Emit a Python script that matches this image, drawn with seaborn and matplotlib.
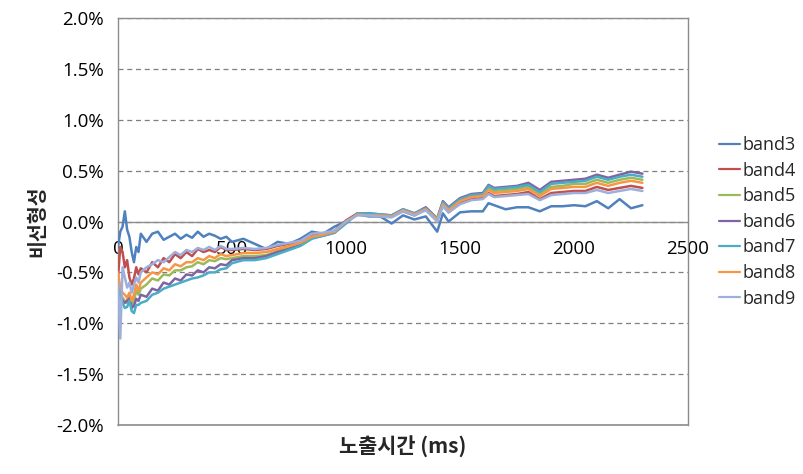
import matplotlib
matplotlib.use("Agg")
import matplotlib.pyplot as plt
import matplotlib.ticker as mticker
import numpy as np
import pandas as pd
import seaborn as sns

# ---------------- data (values in %) ----------------
time_ms = [0, 10, 20, 30, 40, 50, 60, 70, 80, 90, 100,
           125, 150, 175, 200, 225, 250, 275, 300, 325, 350, 375, 400, 425, 450, 475,
           500, 550, 600, 650, 700, 750, 800, 850, 900, 950, 1000,
           1050, 1100, 1150, 1200, 1250, 1300, 1350, 1400, 1425, 1450, 1500, 1550, 1600,
           1625, 1650, 1700, 1750, 1800, 1850, 1900, 1950, 2000, 2050, 2100, 2150, 2200,
           2250, 2300]

band3 = [-0.25, -0.1, -0.05, 0.1, -0.08, -0.15, -0.3, -0.4, -0.25, -0.3, -0.12,
         -0.2, -0.12, -0.1, -0.18, -0.15, -0.12, -0.17, -0.13, -0.16, -0.1, -0.15, -0.12, -0.14, -0.17, -0.15,
         -0.2, -0.17, -0.22, -0.27, -0.2, -0.22, -0.17, -0.1, -0.12, -0.05, 0.0,
         0.07, 0.05, 0.05, -0.02, 0.06, 0.02, 0.05, -0.1, 0.08, 0.0, 0.09, 0.1, 0.1,
         0.18, 0.16, 0.12, 0.14, 0.14, 0.1, 0.15, 0.15, 0.16, 0.15, 0.2, 0.13, 0.22,
         0.13, 0.16]

band4 = [-0.55, -0.25, -0.3, -0.45, -0.38, -0.55, -0.62, -0.56, -0.45, -0.52, -0.46,
         -0.5, -0.4, -0.45, -0.36, -0.4, -0.32, -0.36, -0.3, -0.34, -0.27, -0.3, -0.28, -0.3, -0.25, -0.28,
         -0.28, -0.27, -0.28, -0.27, -0.24, -0.22, -0.19, -0.13, -0.12, -0.09, 0.01,
         0.08, 0.07, 0.05, 0.05, 0.1, 0.06, 0.12, 0.01, 0.16, 0.09, 0.18, 0.22, 0.23,
         0.28, 0.25, 0.26, 0.27, 0.29, 0.22, 0.28, 0.29, 0.3, 0.3, 0.34, 0.31, 0.33,
         0.35, 0.33]

band5 = [-0.55, -0.7, -0.75, -0.78, -0.8, -0.75, -0.82, -0.78, -0.68, -0.72, -0.66,
         -0.62, -0.56, -0.58, -0.52, -0.53, -0.48, -0.48, -0.45, -0.44, -0.4, -0.42, -0.38, -0.39, -0.36, -0.37,
         -0.36, -0.34, -0.34, -0.33, -0.29, -0.26, -0.23, -0.16, -0.13, -0.1, -0.01,
         0.07, 0.07, 0.06, 0.05, 0.11, 0.07, 0.13, 0.02, 0.18, 0.12, 0.21, 0.25, 0.26,
         0.33, 0.3, 0.31, 0.32, 0.34, 0.27, 0.34, 0.35, 0.37, 0.37, 0.41, 0.38, 0.41,
         0.43, 0.41]

band6 = [-0.55, -0.7, -0.78, -0.8, -0.78, -0.72, -0.85, -0.83, -0.76, -0.78, -0.72,
         -0.74, -0.66, -0.68, -0.6, -0.62, -0.56, -0.58, -0.52, -0.53, -0.48, -0.5, -0.45, -0.46, -0.42, -0.43,
         -0.38, -0.36, -0.36, -0.34, -0.3, -0.27, -0.23, -0.16, -0.14, -0.11, -0.01,
         0.08, 0.08, 0.07, 0.06, 0.12, 0.08, 0.14, 0.03, 0.2, 0.14, 0.23, 0.27, 0.28,
         0.36, 0.33, 0.34, 0.35, 0.38, 0.31, 0.39, 0.4, 0.41, 0.42, 0.46, 0.43, 0.46,
         0.49, 0.47]

band7 = [-0.6, -0.75, -0.8, -0.85, -0.84, -0.78, -0.88, -0.9, -0.82, -0.82, -0.8,
         -0.78, -0.72, -0.7, -0.66, -0.64, -0.62, -0.6, -0.58, -0.56, -0.55, -0.53, -0.5, -0.5, -0.47, -0.46,
         -0.41, -0.38, -0.38, -0.36, -0.32, -0.28, -0.24, -0.17, -0.14, -0.11, -0.02,
         0.08, 0.08, 0.07, 0.06, 0.12, 0.08, 0.13, 0.03, 0.19, 0.13, 0.22, 0.26, 0.27,
         0.35, 0.32, 0.33, 0.34, 0.36, 0.29, 0.37, 0.38, 0.39, 0.4, 0.44, 0.41, 0.44,
         0.46, 0.44]

band8 = [-0.5, -0.65, -0.7, -0.72, -0.75, -0.7, -0.78, -0.72, -0.62, -0.68, -0.6,
         -0.55, -0.5, -0.52, -0.46, -0.48, -0.42, -0.44, -0.4, -0.4, -0.36, -0.38, -0.34, -0.36, -0.32, -0.34,
         -0.33, -0.31, -0.31, -0.3, -0.27, -0.24, -0.21, -0.15, -0.13, -0.1, 0.0,
         0.07, 0.06, 0.06, 0.05, 0.11, 0.07, 0.12, 0.02, 0.17, 0.11, 0.2, 0.24, 0.25,
         0.31, 0.28, 0.29, 0.3, 0.32, 0.25, 0.32, 0.33, 0.34, 0.34, 0.38, 0.35, 0.38,
         0.4, 0.38]

band9 = [-0.6, -1.15, -0.45, -0.55, -0.65, -0.6, -0.7, -0.62, -0.55, -0.6, -0.5,
         -0.45, -0.42, -0.38, -0.4, -0.35, -0.3, -0.33, -0.28, -0.3, -0.26, -0.28, -0.25, -0.28, -0.24, -0.27,
         -0.27, -0.26, -0.27, -0.26, -0.23, -0.21, -0.19, -0.12, -0.11, -0.09, 0.0,
         0.06, 0.06, 0.05, 0.04, 0.1, 0.06, 0.11, 0.0, 0.15, 0.09, 0.17, 0.21, 0.22,
         0.27, 0.24, 0.25, 0.26, 0.27, 0.21, 0.26, 0.27, 0.28, 0.28, 0.31, 0.28, 0.3,
         0.32, 0.3]

band_names = ["band3", "band4", "band5", "band6", "band7", "band8", "band9"]
band_values = [band3, band4, band5, band6, band7, band8, band9]
band_colors = ["#4F81BD", "#C0504D", "#9BBB59", "#8064A2", "#4BACC6", "#F79646", "#9DAFDA"]

y_ticks = [-2.0, -1.5, -1.0, -0.5, 0.0, 0.5, 1.0, 1.5, 2.0]
x_ticks = [0, 500, 1000, 1500, 2000, 2500]

# ---------------- frame ----------------
rows = []
for name, vals in zip(band_names, band_values):
    for t, v in zip(time_ms, vals):
        rows.append({"time": t, "value": v, "band": name})
df = pd.DataFrame(rows)

sns.set_style("white")
plt.rcParams["font.family"] = ["Open Sans", "Noto Sans CJK KR", "DejaVu Sans"]

fig = plt.figure(figsize=(8.04, 4.74), dpi=100)
ax = fig.add_axes([118 / 804, 1 - 425 / 474, 570 / 804, 407 / 474])

sns.lineplot(data=df, x="time", y="value", hue="band", hue_order=band_names,
             palette=dict(zip(band_names, band_colors)), linewidth=1.8,
             ax=ax, zorder=3, legend=True)

ax.set_xlim(0, 2500)
ax.set_ylim(-2.0, 2.0)
ax.set_yticks(y_ticks)
ax.set_xticks(x_ticks)
ax.yaxis.set_major_formatter(mticker.FuncFormatter(
    lambda v, p: f"{(round(v, 1) + 0.0):.1f}%"))
ax.xaxis.set_major_formatter(mticker.FuncFormatter(lambda v, p: f"{int(v)}"))

axis_col = "#8C8C8C"
ax.grid(axis="y", linestyle=(0, (4, 3)), color="#7F7F7F", linewidth=0.9)
ax.grid(axis="x", visible=False)
ax.set_axisbelow(True)

ax.spines["bottom"].set_position(("data", 0))
for s in ["left", "bottom", "top", "right"]:
    ax.spines[s].set_visible(True)
    ax.spines[s].set_color(axis_col)
    ax.spines[s].set_linewidth(1.0)
ax.axhline(-2.0, color=axis_col, linewidth=1.2, clip_on=False, zorder=4)

ax.tick_params(axis="both", which="major", direction="out", length=6,
               color=axis_col, labelsize=13.5, labelcolor="#000000")
ax.tick_params(axis="x", pad=7)
ax.tick_params(axis="y", pad=4)

ax.set_xlabel("노출시간 (ms)", fontsize=15, fontweight="bold",
              family=["Noto Sans CJK KR", "DejaVu Sans"])
ax.xaxis.set_label_coords(0.5, -0.054)
ax.xaxis.label.set_va("center")
ax.set_ylabel("비선형성", fontsize=14, fontweight="bold",
              family=["Noto Sans CJK KR", "DejaVu Sans"])
ax.yaxis.set_label_coords(-0.14, 0.5)
ax.yaxis.label.set_va("center")

handles, labels = ax.get_legend_handles_labels()
leg = ax.legend(handles, labels, loc="center left",
                bbox_to_anchor=(0.894, 0.532), bbox_transform=fig.transFigure,
                frameon=False, fontsize=13, handlelength=1.2,
                handletextpad=0.1, labelspacing=0.42, borderpad=0,
                borderaxespad=0)
for line in leg.get_lines():
    line.set_linewidth(1.6)

fig.savefig("out.png", dpi=100)
